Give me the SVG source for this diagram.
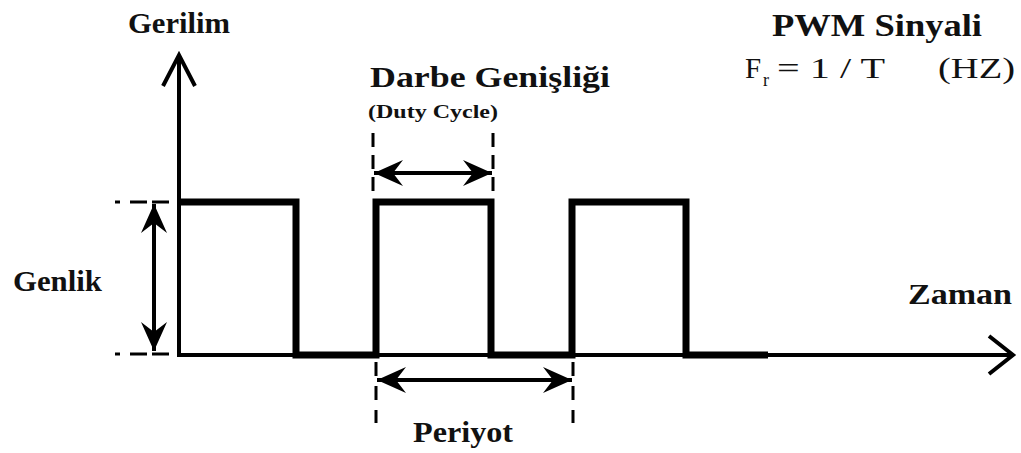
<svg xmlns="http://www.w3.org/2000/svg" width="1021" height="453" viewBox="0 0 1021 453">
<style>
.lbl{font-family:"Liberation Serif","Times New Roman",serif;font-weight:bold;fill:#111;}
.reg{font-family:"Liberation Serif","Times New Roman",serif;fill:#111;}
.axis{stroke:#000;stroke-width:4;fill:none;}
.dash{stroke:#000;stroke-width:3;fill:none;}
.dim{stroke:#000;stroke-width:4;fill:none;}
</style>
<defs>
<marker id="barb" markerUnits="userSpaceOnUse" viewBox="-30 -15 32 30" refX="0" refY="0" markerWidth="32" markerHeight="30" orient="auto-start-reverse" overflow="visible">
<path d="M0,0 L-29,-13 L-19,0 L-29,13 Z" fill="#000"/>
</marker>
</defs>
<rect width="1021" height="453" fill="#fff"/>
<g id="connectors">
<line class="axis" x1="179" y1="357" x2="179" y2="55"/>
<polyline class="axis" points="163,86 179,55 195,86" stroke-linejoin="miter"/>
<line class="axis" x1="177" y1="355" x2="1012" y2="355"/>
<polyline class="axis" points="989,336 1013,355 989,374"/>
<polyline fill="none" stroke="#000" stroke-width="7" stroke-linejoin="miter" points="179,202 296,202 296,355 376,355 376,202 491,202 491,355 572,355 572,202 686,202 686,355 768,355"/>
<line class="dash" x1="115" y1="202" x2="172" y2="202" stroke-dasharray="5 10 17 5 17"/>
<line class="dash" x1="115" y1="354" x2="172" y2="354" stroke-dasharray="5 10 17 5 17"/>
<line class="dash" x1="373" y1="133" x2="373" y2="199" stroke-dasharray="14 8"/>
<line class="dash" x1="493" y1="133" x2="493" y2="199" stroke-dasharray="14 8"/>
<line class="dash" x1="376" y1="362" x2="376" y2="423" stroke-dasharray="14 10"/>
<line class="dash" x1="573" y1="362" x2="573" y2="423" stroke-dasharray="14 10"/>
<line class="dim" x1="154" y1="204" x2="154" y2="351" marker-start="url(#barb)" marker-end="url(#barb)"/>
<line class="dim" x1="374" y1="173" x2="492" y2="173" marker-start="url(#barb)" marker-end="url(#barb)"/>
<line class="dim" x1="377" y1="380" x2="572" y2="380" marker-start="url(#barb)" marker-end="url(#barb)"/>
</g>
<g id="gerilim"><text class="lbl" x="128" y="33" font-size="30" textLength="102" lengthAdjust="spacingAndGlyphs">Gerilim</text></g>
<g id="title"><text class="lbl" x="772" y="36" font-size="31" textLength="210" lengthAdjust="spacingAndGlyphs">PWM Sinyali</text></g>
<g id="formula">
<text class="reg" x="745" y="78" font-size="29">F</text>
<text class="reg" x="763" y="86" font-size="18">r</text>
<text class="reg" x="777" y="78" font-size="29" textLength="108" lengthAdjust="spacingAndGlyphs">= 1 / T</text>
<text class="reg" x="938" y="78" font-size="29" textLength="77" lengthAdjust="spacingAndGlyphs">(HZ)</text>
</g>
<g id="darbe">
<text class="lbl" x="370" y="87" font-size="29" textLength="240" lengthAdjust="spacingAndGlyphs">Darbe Genişliği</text>
<text class="lbl" x="368" y="118" font-size="19" textLength="130" lengthAdjust="spacingAndGlyphs">(Duty Cycle)</text>
</g>
<g id="genlik"><text class="lbl" x="13" y="291" font-size="30" textLength="89" lengthAdjust="spacingAndGlyphs">Genlik</text></g>
<g id="zaman"><text class="lbl" x="908" y="304" font-size="30" textLength="104" lengthAdjust="spacingAndGlyphs">Zaman</text></g>
<g id="periyot"><text class="lbl" x="413" y="442" font-size="30" textLength="100" lengthAdjust="spacingAndGlyphs">Periyot</text></g>
</svg>
